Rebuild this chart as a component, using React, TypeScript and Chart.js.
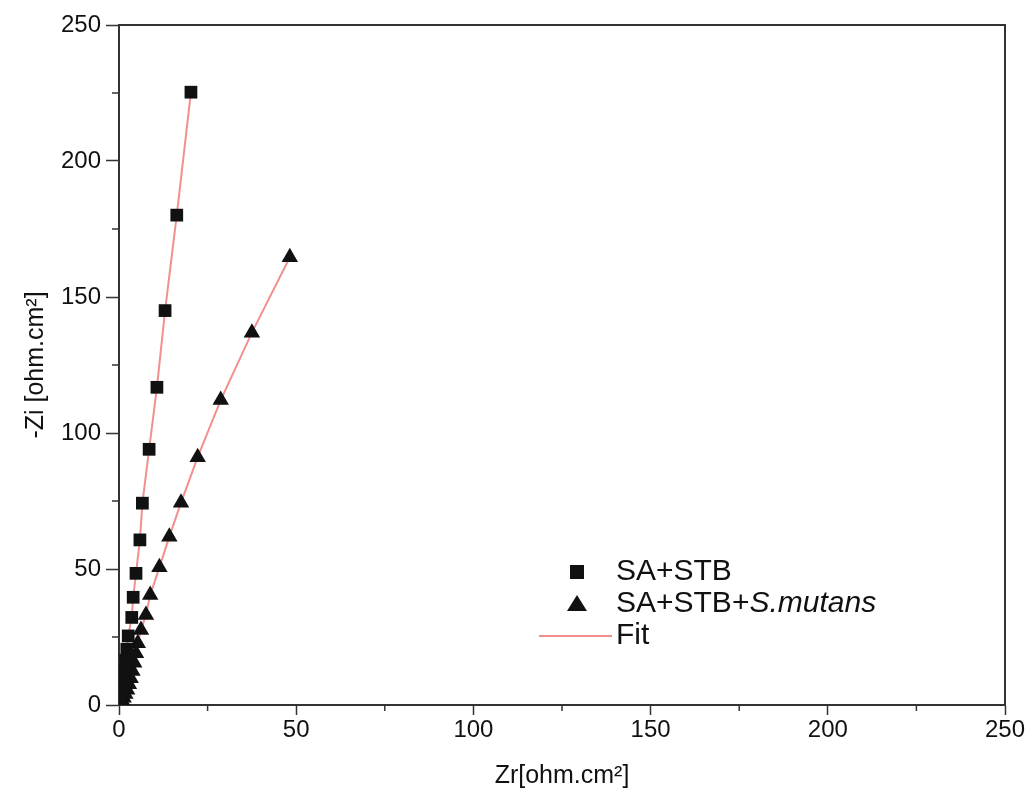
import React, { useEffect, useRef } from "react";
import { Chart, registerables } from "chart.js";

Chart.register(...registerables);

// ---- Data ----
const sqX = [20.3, 16.3, 13.0, 10.7, 8.5, 6.6, 5.9, 4.8, 4.0, 3.6, 2.6, 2.2, 1.9, 1.6, 1.4, 1.2, 1.0, 0.85, 0.7, 0.6, 0.5, 0.4, 0.3, 0.2];
const sqY = [225.3, 180.1, 145.0, 116.8, 94.0, 74.2, 60.7, 48.4, 39.6, 32.2, 25.4, 20.5, 16.5, 13.2, 10.6, 8.5, 6.8, 5.4, 4.2, 3.2, 2.4, 1.7, 1.1, 0.6];

const triX = [48.2, 37.5, 28.7, 22.2, 17.5, 14.2, 11.4, 8.8, 7.6, 6.2, 5.3, 4.8, 4.3, 3.8, 3.3, 2.8, 2.3, 1.8, 1.3, 0.9, 0.5];
const triY = [164.6, 136.9, 112.1, 91.1, 74.4, 61.9, 50.6, 40.4, 33.1, 27.6, 22.7, 19.0, 15.5, 12.5, 9.8, 7.6, 5.6, 4.0, 2.7, 1.6, 0.8];

const seriesLabels = ["SA+STB", "SA+STB+S.mutans", "Fit"];
const italicPart = "S.mutans";

const axisMin = 0;
const axisMax = 250;
const majorStep = 50;
const minorTicks = [25, 75, 125, 175, 225];

const xTitle = "Zr[ohm.cm²]";
const yTitle = "-Zi [ohm.cm²]";

const FONT = "'Liberation Sans', Arial, Helvetica, sans-serif";
const AXIS_COLOR = "#333";
const FIT_COLOR = "#f2908f";

const toPts = (xs: number[], ys: number[]) => xs.map((x, i) => ({ x, y: ys[i] }));

const framePlugin = {
  id: "frameAndLegend",
  afterDraw(chart: any) {
    const ctx = chart.ctx;
    const { left, right, top, bottom } = chart.chartArea;
    const xs = chart.scales.x;
    const ys = chart.scales.y;
    ctx.save();
    // top and right frame
    ctx.strokeStyle = AXIS_COLOR;
    ctx.lineWidth = 2;
    ctx.beginPath();
    ctx.moveTo(left, top);
    ctx.lineTo(right, top);
    ctx.lineTo(right, bottom);
    ctx.stroke();
    // minor ticks
    ctx.lineWidth = 1.5;
    ctx.beginPath();
    minorTicks.forEach((v) => {
      const px = xs.getPixelForValue(v);
      ctx.moveTo(px, bottom);
      ctx.lineTo(px, bottom + 6);
      const py = ys.getPixelForValue(v);
      ctx.moveTo(left, py);
      ctx.lineTo(left - 7, py);
    });
    ctx.stroke();

    // legend
    const lx = 577;
    const tx = 616;
    const rowY = [572, 604, 636];
    const ds = chart.data.datasets;
    ctx.textBaseline = "middle";
    ctx.textAlign = "left";
    ctx.fillStyle = "#111";
    // square marker
    ctx.fillRect(lx - 7, rowY[0] - 7, 14, 14);
    // triangle marker
    ctx.beginPath();
    ctx.moveTo(lx, rowY[1] - 9);
    ctx.lineTo(lx + 10, rowY[1] + 7);
    ctx.lineTo(lx - 10, rowY[1] + 7);
    ctx.closePath();
    ctx.fill();
    // fit line
    ctx.strokeStyle = FIT_COLOR;
    ctx.lineWidth = 2;
    ctx.beginPath();
    ctx.moveTo(539, rowY[2]);
    ctx.lineTo(612, rowY[2]);
    ctx.stroke();

    ctx.fillStyle = "#111";
    const normal = `30px ${FONT}`;
    const italic = `italic 30px ${FONT}`;
    ctx.font = normal;
    ctx.fillText(ds[0].label, tx, rowY[0]);
    const l2: string = ds[1].label;
    const idx = l2.indexOf(italicPart);
    const pre = idx >= 0 ? l2.slice(0, idx) : l2;
    ctx.fillText(pre, tx, rowY[1]);
    if (idx >= 0) {
      const w = ctx.measureText(pre).width;
      ctx.font = italic;
      ctx.fillText(italicPart, tx + w, rowY[1]);
    }
    ctx.font = normal;
    ctx.fillText(ds[2].label, tx, rowY[2]);
    ctx.restore();
  },
};

export default function App() {
  const ref = useRef<HTMLCanvasElement | null>(null);

  useEffect(() => {
    if (!ref.current) return;
    const tickFont = { family: FONT, size: 24 };
    const chart = new Chart(ref.current, {
      type: "scatter",
      data: {
        datasets: [
          {
            label: seriesLabels[0],
            data: toPts(sqX, sqY),
            pointStyle: "rect",
            pointRadius: 9,
            backgroundColor: "#111",
            borderColor: "#111",
            borderWidth: 0,
            showLine: false,
            order: 1,
          },
          {
            label: seriesLabels[1],
            data: toPts(triX, triY),
            pointStyle: "triangle",
            pointRadius: 9.5,
            backgroundColor: "#111",
            borderColor: "#111",
            borderWidth: 0,
            showLine: false,
            order: 1,
          },
          {
            label: seriesLabels[2],
            data: [{ x: 0, y: 0 }, ...toPts(sqX, sqY).reverse()],
            showLine: true,
            pointRadius: 0,
            borderColor: FIT_COLOR,
            borderWidth: 2,
            backgroundColor: FIT_COLOR,
            order: 2,
          },
          {
            label: seriesLabels[2],
            data: [{ x: 0, y: 0 }, ...toPts(triX, triY).reverse()],
            showLine: true,
            pointRadius: 0,
            borderColor: FIT_COLOR,
            borderWidth: 2,
            backgroundColor: FIT_COLOR,
            order: 2,
          },
        ],
      },
      options: {
        animation: false,
        responsive: true,
        maintainAspectRatio: false,
        layout: { padding: { left: 0, top: 25, right: 23, bottom: 0 } },
        plugins: {
          legend: { display: false },
          tooltip: { enabled: false },
        },
        scales: {
          x: {
            type: "linear",
            min: axisMin,
            max: axisMax,
            afterFit: (s: any) => {
              s.height = 86;
            },
            ticks: {
              stepSize: majorStep,
              color: "#111",
              font: tickFont,
              padding: 1,
              maxRotation: 0,
            },
            grid: {
              drawOnChartArea: false,
              drawTicks: true,
              tickLength: 10,
              tickColor: AXIS_COLOR,
              tickWidth: 1.5,
            },
            border: { display: true, color: AXIS_COLOR, width: 2 },
            title: {
              display: true,
              text: xTitle,
              color: "#111",
              font: { family: FONT, size: 25 },
              padding: { top: 0, bottom: 0 },
            },
          },
          y: {
            type: "linear",
            min: axisMin,
            max: axisMax,
            afterFit: (s: any) => {
              s.width = 119;
            },
            ticks: {
              stepSize: majorStep,
              color: "#111",
              font: tickFont,
              padding: 5,
            },
            grid: {
              drawOnChartArea: false,
              drawTicks: true,
              tickLength: 13,
              tickColor: AXIS_COLOR,
              tickWidth: 1.5,
            },
            border: { display: true, color: AXIS_COLOR, width: 2 },
            title: {
              display: true,
              text: yTitle,
              color: "#111",
              font: { family: FONT, size: 25 },
              padding: { top: 21, bottom: 0 },
            },
          },
        },
      },
      plugins: [framePlugin],
    });
    return () => chart.destroy();
  }, []);

  return (
    <div style={{ position: "absolute", left: 0, top: 0, width: 1028, height: 791, background: "#fff" }}>
      <canvas ref={ref} />
    </div>
  );
}
